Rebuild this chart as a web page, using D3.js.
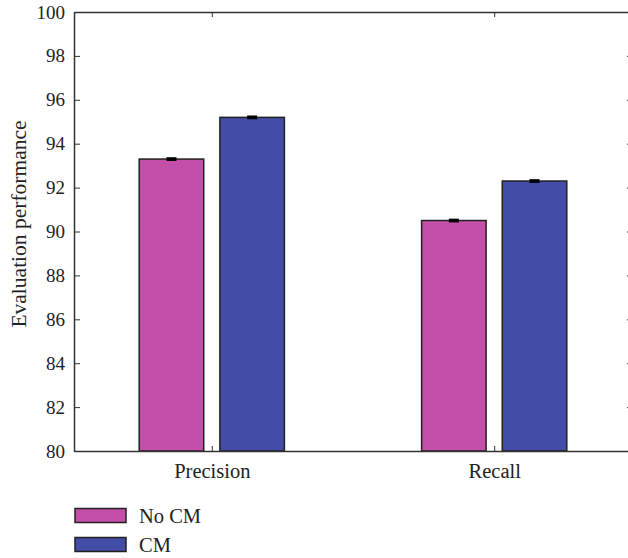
<!DOCTYPE html>
<html>
<head>
<meta charset="utf-8">
<script src="https://cdn.jsdelivr.net/npm/d3@7/dist/d3.min.js"></script>
<style>
  body { margin: 0; background: #fff; }
  .axis path, .axis line { stroke: #333; }
</style>
</head>
<body>
<div id="chart"></div>
<script>
// data
var categories = ["Precision", "Recall"];
var series = ["No CM", "CM"];
var noCM = [93.3, 90.5];
var withCM = [95.2, 92.3];
var errNoCM = [0.04, 0.04];
var errCM = [0.04, 0.04];
var yTicks = [80, 82, 84, 86, 88, 90, 92, 94, 96, 98, 100];
var colors = ["#c44fa8", "#434ca6"];

var width = 628, height = 558;
var margin = {top: 12, left: 74, plotRight: 632, bottom: 451};
var font = "'Liberation Serif', 'Times New Roman', Times, serif";

var svg = d3.select("#chart").append("svg")
  .attr("width", width)
  .attr("height", height)
  .attr("font-family", font);

var x = d3.scalePoint()
  .domain(categories)
  .range([margin.left, margin.plotRight])
  .padding(0.488);

var xs = d3.scaleBand()
  .domain(series)
  .range([-72.6, 72.6])
  .paddingInner(0.2);

var y = d3.scaleLinear()
  .domain([80, 100])
  .range([margin.bottom, margin.top]);

// rows: one per category
var rows = categories.map(function(c, i) {
  return {cat: c, vals: [
    {s: series[0], v: noCM[i], e: errNoCM[i]},
    {s: series[1], v: withCM[i], e: errCM[i]}
  ]};
});

var group = svg.selectAll(".group")
  .data(rows)
  .enter().append("g")
  .attr("class", "group")
  .attr("transform", function(d) { return "translate(" + x(d.cat) + ",0)"; });

group.selectAll("rect")
  .data(function(d) { return d.vals; })
  .enter().append("rect")
  .attr("x", function(d) { return xs(d.s); })
  .attr("width", xs.bandwidth())
  .attr("y", function(d) { return y(d.v); })
  .attr("height", function(d) { return y(80) - y(d.v); })
  .attr("fill", function(d, i) { return colors[i]; })
  .attr("stroke", "#222")
  .attr("stroke-width", 1.5);

// error bars
var eb = group.selectAll(".err")
  .data(function(d) { return d.vals; })
  .enter().append("g")
  .attr("class", "err")
  .attr("transform", function(d) { return "translate(" + (xs(d.s) + xs.bandwidth() / 2) + ",0)"; });

eb.append("rect")
  .attr("x", -5)
  .attr("width", 10)
  .attr("y", function(d) { return y(d.v + d.e) - 1; })
  .attr("height", function(d) { return y(d.v - d.e) - y(d.v + d.e) + 2; })
  .attr("fill", "#000");

// axes
var yAxis = svg.append("g")
  .attr("class", "axis")
  .attr("transform", "translate(" + margin.left + ",0)")
  .call(d3.axisLeft(y).tickValues(yTicks).tickSizeInner(-6).tickSizeOuter(0).tickPadding(9));
yAxis.attr("font-family", font).attr("font-size", 19);
yAxis.select(".domain").attr("stroke-width", 1.5);

svg.append("g")
  .attr("class", "axis")
  .attr("transform", "translate(" + margin.plotRight + ",0)")
  .call(d3.axisRight(y).tickValues(yTicks).tickSizeInner(-5).tickSizeOuter(0).tickFormat(""))
  .select(".domain").attr("stroke-width", 1.5);

var xAxis = svg.append("g")
  .attr("class", "axis")
  .attr("transform", "translate(0," + margin.bottom + ")")
  .call(d3.axisBottom(x).tickSizeInner(-5).tickSizeOuter(0).tickPadding(12.5));
xAxis.attr("font-family", font).attr("font-size", 20.5);
xAxis.select(".domain").attr("stroke-width", 1.5);

svg.append("g")
  .attr("class", "axis")
  .attr("transform", "translate(0," + margin.top + ")")
  .call(d3.axisTop(x).tickSizeInner(-5).tickSizeOuter(0).tickFormat(""))
  .select(".domain").attr("stroke-width", 1.5);

svg.selectAll(".axis text").attr("fill", "#222");

// y label
svg.append("text")
  .attr("transform", "translate(26,224)rotate(-90)")
  .attr("text-anchor", "middle")
  .attr("font-size", 21.5)
  .attr("fill", "#222")
  .text("Evaluation performance");

// legend
var legend = svg.selectAll(".legend")
  .data(series)
  .enter().append("g")
  .attr("class", "legend")
  .attr("transform", function(d, i) { return "translate(75," + (508.5 + i * 29) + ")"; });

legend.append("rect")
  .attr("width", 51)
  .attr("height", 14)
  .attr("fill", function(d, i) { return colors[i]; })
  .attr("stroke", "#222")
  .attr("stroke-width", 1.5);

legend.append("text")
  .attr("x", 64)
  .attr("y", 14.5)
  .attr("font-size", 20.5)
  .attr("fill", "#222")
  .text(function(d) { return d; });
</script>
</body>
</html>
